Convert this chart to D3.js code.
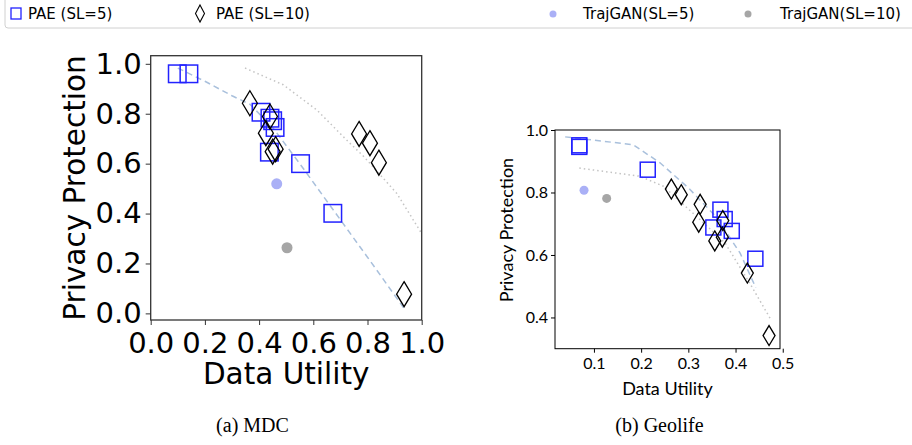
<!DOCTYPE html>
<html><head><meta charset="utf-8">
<script src="https://cdn.jsdelivr.net/npm/d3@7"></script>
<style>body{margin:0;background:#fff}svg{display:block}</style>
</head><body>
<svg id="c" width="912" height="445"></svg>
<script>
// ---- MDC (left) data ----
const mdcPaeSL5 = [[0.098,0.96],[0.141,0.96],[0.407,0.806],[0.440,0.782],[0.450,0.772],[0.459,0.745],[0.438,0.646],[0.553,0.600],[0.672,0.401]];
const mdcPaeSL10 = [[0.366,0.842],[0.440,0.789],[0.425,0.722],[0.461,0.658],[0.450,0.648],[0.769,0.719],[0.809,0.682],[0.842,0.604],[0.935,0.077]];
const mdcTrajSL5 = [[0.465,0.519]];
const mdcTrajSL10 = [[0.503,0.263]];
const mdcFrontSL5 = [[0.10,0.983],[0.2,0.93],[0.3,0.872],[0.366,0.838],[0.45,0.745],[0.55,0.60],[0.70,0.375],[0.80,0.225],[0.935,0.02]];
const mdcFrontSL10 = [[0.348,0.983],[0.489,0.916],[0.613,0.815],[0.729,0.688],[0.785,0.63],[0.908,0.481],[1.0,0.32]];
const mdcXTicks = [0,0.2,0.4,0.6,0.8,1.0];
const mdcYTicks = [0,0.2,0.4,0.6,0.8,1.0];

// ---- Geolife (right) data ----
const geoPaeSL5 = [[0.069,0.951],[0.069,0.946],[0.214,0.873],[0.368,0.745],[0.377,0.715],[0.353,0.688],[0.392,0.677],[0.442,0.588]];
const geoPaeSL10 = [[0.264,0.811],[0.285,0.793],[0.325,0.762],[0.322,0.705],[0.373,0.710],[0.356,0.645],[0.372,0.657],[0.425,0.542],[0.471,0.342]];
const geoTrajSL5 = [[0.079,0.807]];
const geoTrajSL10 = [[0.127,0.781]];
const geoFrontSL5 = [[0.039,0.978],[0.183,0.953],[0.24,0.895],[0.30,0.815],[0.36,0.72],[0.41,0.605],[0.443,0.495]];
const geoFrontSL10 = [[0.069,0.878],[0.197,0.852],[0.247,0.82],[0.325,0.713],[0.378,0.638],[0.43,0.51],[0.473,0.398]];
const geoXTicks = [0.1,0.2,0.3,0.4,0.5];
const geoYTicks = [0.4,0.6,0.8,1.0];

const legendLabels = ["PAE (SL=5)","PAE (SL=10)","TrajGAN(SL=5)","TrajGAN(SL=10)"];
const captions = ["(a) MDC","(b) Geolife"];
const axisTitles = ["Data Utility","Privacy Protection"];

const svg = d3.select("#c");
const BLUE = "#2222ff", LBLUE = "#aab0f6", GREY = "#a6a6a6", DASH = "#a9c0dc", DOT = "#c4c4c4";

function panel(o){
  const g = svg.append("g");
  const x = d3.scaleLinear().domain(o.xd).range([o.x0,o.x1]);
  const y = d3.scaleLinear().domain(o.yd).range([o.y1,o.y0]);
  const line = d3.line().x(d=>x(d[0])).y(d=>y(d[1]));
  g.append("path").attr("d",line(o.front5)).attr("fill","none").attr("stroke",DASH).attr("stroke-width",1.5).attr("stroke-dasharray","6,4");
  g.append("path").attr("d",line(o.front10)).attr("fill","none").attr("stroke",DOT).attr("stroke-width",1.5).attr("stroke-dasharray","1.5,3");
  const s = o.sq;
  g.selectAll(".sq").data(o.pae5).join("rect")
    .attr("x",d=>x(d[0])-s/2).attr("y",d=>y(d[1])-s/2).attr("width",s).attr("height",s)
    .attr("fill","none").attr("stroke",BLUE).attr("stroke-width",1.5);
  g.selectAll(".dm").data(o.pae10).join("path")
    .attr("d",d=>{const cx=x(d[0]),cy=y(d[1]),w=o.dw/2,h=o.dh/2;return `M${cx},${cy-h}L${cx+w},${cy}L${cx},${cy+h}L${cx-w},${cy}Z`;})
    .attr("fill","none").attr("stroke","#000").attr("stroke-width",1.3);
  g.selectAll(".c1").data(o.traj5).join("circle").attr("cx",d=>x(d[0])).attr("cy",d=>y(d[1])).attr("r",o.cr).attr("fill",LBLUE);
  g.selectAll(".c2").data(o.traj10).join("circle").attr("cx",d=>x(d[0])).attr("cy",d=>y(d[1])).attr("r",o.cr).attr("fill",GREY);
  // frame
  g.append("rect").attr("x",o.x0).attr("y",o.y0).attr("width",o.x1-o.x0).attr("height",o.y1-o.y0)
    .attr("fill","none").attr("stroke",o.frame).attr("stroke-width",o.fw);
  const ax = g.append("g").attr("transform",`translate(0,${o.y1})`)
    .call(d3.axisBottom(x).tickValues(o.xt).tickFormat(d3.format(".1f")).tickSize(o.ts).tickPadding(o.xpad));
  const ay = g.append("g").attr("transform",`translate(${o.x0},0)`)
    .call(d3.axisLeft(y).tickValues(o.yt).tickFormat(d3.format(".1f")).tickSize(o.ts).tickPadding(o.ypad));
  [ax,ay].forEach(a=>{
    a.select(".domain").remove();
    a.selectAll("line").attr("stroke",o.frame);
    a.selectAll("text").attr("font-family",o.font).attr("font-size",o.tfs).attr("fill","#000");
  });
  g.append("text").attr("x",(o.x0+o.x1)/2).attr("y",o.xlY).attr("text-anchor","middle")
    .attr("font-family",o.font).attr("font-size",o.lfs).text(axisTitles[0]);
  g.append("text").attr("transform",`translate(${o.ylX},${o.ylC}) rotate(-90)`).attr("text-anchor","middle")
    .attr("font-family",o.font).attr("font-size",o.lfs).text(axisTitles[1]);
  g.append("text").attr("x",o.capX).attr("y",432).attr("text-anchor","middle")
    .attr("font-family","Liberation Serif, serif").attr("font-size",20).text(o.cap);
}

panel({x0:150.7,x1:421.7,y0:55.7,y1:320,xd:[0,1],yd:[-0.0265,1.0325],
  front5:mdcFrontSL5,front10:mdcFrontSL10,pae5:mdcPaeSL5,pae10:mdcPaeSL10,traj5:mdcTrajSL5,traj10:mdcTrajSL10,
  sq:17.5,dw:15,dh:25,cr:5.5,frame:"#333",fw:1.3,xt:mdcXTicks,yt:mdcYTicks,ts:5,xpad:7,ypad:4,
  font:"DejaVu Sans",tfs:29,lfs:29.5,xlY:384,ylX:85,ylC:188,capX:252.5,cap:captions[0]});

panel({x0:555,x1:780,y0:130,y1:348.7,xd:[0.0175,0.4942],yd:[0.30,1.0],
  front5:geoFrontSL5,front10:geoFrontSL10,pae5:geoPaeSL5,pae10:geoPaeSL10,traj5:geoTrajSL5,traj10:geoTrajSL10,
  sq:15,dw:12,dh:20,cr:4.5,frame:"#000",fw:1,xt:geoXTicks,yt:geoYTicks,ts:4,xpad:5,ypad:3,
  font:"Lato",tfs:16,lfs:18,xlY:395,ylX:513,ylC:230,capX:659.5,cap:captions[1]});

// legend
const lg = svg.append("g");
lg.append("rect").attr("x",5).attr("y",-4).attr("width",920).attr("height",32).attr("rx",3)
  .attr("fill","#fff").attr("stroke","#d0d0d0").attr("stroke-width",1);
const lx = [16,200,553,748], tx = [28,216,583,780];
lg.append("rect").attr("x",lx[0]-5).attr("y",8).attr("width",10).attr("height",11).attr("fill","none").attr("stroke",BLUE).attr("stroke-width",1.3);
lg.append("path").attr("d",`M${lx[1]},5L${lx[1]+4.5},13.5L${lx[1]},22L${lx[1]-4.5},13.5Z`).attr("fill","none").attr("stroke","#000").attr("stroke-width",1.1);
lg.append("circle").attr("cx",lx[2]).attr("cy",14).attr("r",3.5).attr("fill",LBLUE);
lg.append("circle").attr("cx",lx[3]).attr("cy",14).attr("r",3.5).attr("fill",GREY);
legendLabels.forEach((t,i)=>{
  lg.append("text").attr("x",tx[i]).attr("y",19).attr("font-family","DejaVu Sans").attr("font-size",15).text(t);
});
</script>
</body></html>
